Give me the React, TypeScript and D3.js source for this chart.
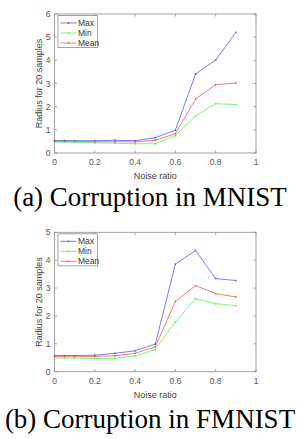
import React from 'react'
import * as d3 from 'd3'

// noise ratios where the runs were measured
const noise = [0, 0.05, 0.1, 0.2, 0.3, 0.4, 0.5, 0.6, 0.7, 0.8, 0.9]

// (a) MNIST
const mnistMax = [0.54, 0.54, 0.53, 0.53, 0.55, 0.53, 0.66, 0.99, 3.41, 4.01, 5.21]
const mnistMin = [0.47, 0.47, 0.46, 0.44, 0.42, 0.4, 0.4, 0.75, 1.6, 2.13, 2.09]
const mnistMean = [0.5, 0.5, 0.5, 0.49, 0.49, 0.48, 0.55, 0.83, 2.33, 2.95, 3.02]

// (b) FMNIST
const fmnistMax = [0.58, 0.58, 0.58, 0.59, 0.66, 0.75, 0.99, 3.86, 4.35, 3.34, 3.27]
const fmnistMin = [0.5, 0.49, 0.49, 0.47, 0.48, 0.56, 0.79, 1.79, 2.62, 2.44, 2.37]
const fmnistMean = [0.55, 0.55, 0.55, 0.55, 0.57, 0.66, 0.89, 2.52, 3.09, 2.8, 2.68]

const xTicks = [0, 0.2, 0.4, 0.6, 0.8, 1]
const seriesNames = ['Max', 'Min', 'Mean']
const seriesColors = ['#5a5af0', '#5af05a', '#f05a5a']

const sans = "'Liberation Sans', Arial, sans-serif"
const serif = "'Liberation Serif', 'Times New Roman', serif"

function Panel({ top, bottom, yMax, series, caption, captionY }) {
  const left = 54.5
  const right = 256
  const x = d3.scaleLinear().domain([0, 1]).range([left, right])
  const y = d3.scaleLinear().domain([0, yMax]).range([bottom, top])
  const yTicks = d3.range(0, yMax + 1)
  const line = d3
    .line<number>()
    .x((d, i) => x(noise[i]))
    .y(d => y(d))

  const axisColor = '#8c8c8c'
  const tick = 2.5

  return (
    <g>
      <rect x={left} y={top} width={right - left} height={bottom - top} fill="white" stroke={axisColor} strokeWidth={0.8} />
      {xTicks.map(t => (
        <g key={'x' + t}>
          <line x1={x(t)} x2={x(t)} y1={bottom} y2={bottom - tick} stroke={axisColor} strokeWidth={0.8} />
          <line x1={x(t)} x2={x(t)} y1={top} y2={top + tick} stroke={axisColor} strokeWidth={0.8} />
          <text x={x(t)} y={bottom + 12} fontSize={8.5} fontFamily={sans} fill="#555" textAnchor="middle">
            {t}
          </text>
        </g>
      ))}
      {yTicks.map(t => (
        <g key={'y' + t}>
          <line x1={left} x2={left + tick} y1={y(t)} y2={y(t)} stroke={axisColor} strokeWidth={0.8} />
          <line x1={right} x2={right - tick} y1={y(t)} y2={y(t)} stroke={axisColor} strokeWidth={0.8} />
          <text x={left - 4} y={y(t) + 3} fontSize={8.5} fontFamily={sans} fill="#555" textAnchor="end">
            {t}
          </text>
        </g>
      ))}
      {series.map((s, i) => (
        <g key={i}>
          <path d={line(s) || ''} fill="none" stroke={seriesColors[i]} strokeWidth={0.8} />
          {s.map((v, j) => (
            <circle key={j} cx={x(noise[j])} cy={y(v)} r={0.9} fill={seriesColors[i]} />
          ))}
        </g>
      ))}
      <text x={(left + right) / 2} y={bottom + 26} fontSize={9} fontFamily={sans} fill="#444" textAnchor="middle">
        Noise ratio
      </text>
      <text
        transform={`translate(${left - 13},${(top + bottom) / 2}) rotate(-90)`}
        fontSize={9}
        fontFamily={sans}
        fill="#444"
        textAnchor="middle"
      >
        Radius for 20 samples
      </text>
      <g transform={`translate(58,${top + 1.5})`}>
        <rect x={0} y={0} width={39.5} height={32} fill="white" stroke={axisColor} strokeWidth={0.8} />
        {seriesNames.map((n, i) => (
          <g key={n} transform={`translate(0,${7.5 + i * 10})`}>
            <line x1={2.5} x2={18.5} y1={0} y2={0} stroke={seriesColors[i]} strokeWidth={0.8} />
            <circle cx={10.5} cy={0} r={0.9} fill={seriesColors[i]} />
            <text x={20} y={3} fontSize={8.5} fontFamily={sans} fill="#333">
              {n}
            </text>
          </g>
        ))}
      </g>
      <text x={150} y={captionY} fontSize={27} fontFamily={serif} fill="#000" textAnchor="middle">
        {caption}
      </text>
    </g>
  )
}

export default function App() {
  return (
    <svg width={297} height={439} style={{ position: 'absolute', left: 0, top: 0, background: 'white' }}>
      <Panel top={14} bottom={153} yMax={6} series={[mnistMax, mnistMin, mnistMean]} caption="(a) Corruption in MNIST" captionY={206} />
      <Panel top={232.3} bottom={371.7} yMax={5} series={[fmnistMax, fmnistMin, fmnistMean]} caption="(b) Corruption in FMNIST" captionY={428} />
    </svg>
  )
}
